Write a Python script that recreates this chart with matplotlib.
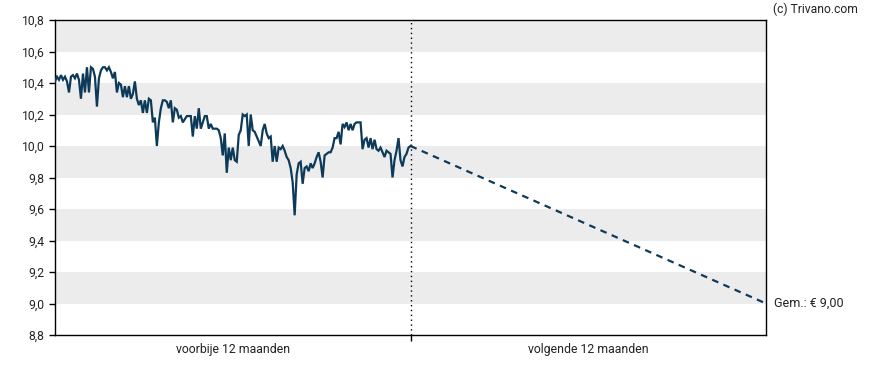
import numpy as np
import matplotlib
matplotlib.use("Agg")
import matplotlib.pyplot as plt

plt.rcParams['font.family'] = ['Roboto', 'DejaVu Sans']

# koersen afgelopen 12 maanden (gelijkmatig verdeeld)
koers = [
    10.41, 10.44, 10.42, 10.45, 10.42, 10.44, 10.41, 10.34, 10.44, 10.45,
    10.43, 10.46, 10.42, 10.30, 10.46, 10.34, 10.50, 10.34, 10.50, 10.49,
    10.44, 10.25, 10.43, 10.48, 10.50, 10.50, 10.48, 10.50, 10.47, 10.43,
    10.47, 10.34, 10.40, 10.39, 10.31, 10.38, 10.31, 10.38, 10.30, 10.33,
    10.41, 10.30, 10.26, 10.29, 10.21, 10.29, 10.21, 10.30, 10.29, 10.15,
    10.18, 10.00, 10.15, 10.24, 10.29, 10.29, 10.28, 10.24, 10.29, 10.15,
    10.24, 10.23, 10.18, 10.19, 10.15, 10.17, 10.19, 10.19, 10.19, 10.06,
    10.19, 10.11, 10.24, 10.11, 10.15, 10.19, 10.19, 10.11, 10.14, 10.11,
    10.11, 10.11, 10.10, 10.05, 9.94, 10.08, 9.83, 9.99, 9.91, 9.99,
    9.91, 9.90, 10.07, 10.10, 10.20, 10.19, 10.20, 10.00, 10.20, 10.10,
    10.09, 10.06, 10.03, 10.00, 10.10, 10.14, 10.08, 10.05, 10.06, 9.90,
    10.00, 9.90, 9.99, 9.98, 10.00, 9.97, 9.93, 9.91, 9.86, 9.77,
    9.56, 9.82, 9.89, 9.90, 9.76, 9.86, 9.87, 9.84, 9.89, 9.86,
    9.89, 9.93, 9.96, 9.90, 9.80, 9.94, 9.95, 9.96, 9.96, 9.99,
    10.05, 10.05, 10.09, 10.01, 10.14, 10.12, 10.15, 10.10, 10.14, 10.10,
    10.14, 10.15, 10.15, 10.15, 9.98, 10.04, 10.05, 9.99, 10.05, 9.98,
    10.04, 9.98, 9.97, 9.99, 9.96, 9.93, 9.97, 9.96, 9.95, 9.80,
    9.91, 9.97, 10.05, 9.91, 9.87, 9.93, 9.95, 9.99, 10.00,
]
# koersdoel: laatste koers -> gemiddelde verwachting
prognose = [10.00, 9.00]
periodes = ['voorbije 12 maanden', 'volgende 12 maanden']
yticks = [8.8, 9.0, 9.2, 9.4, 9.6, 9.8, 10.0, 10.2, 10.4, 10.6, 10.8]

kleur = '#0e3a5a'
tekst = '#222222'

fig = plt.figure(figsize=(8.88, 3.70), dpi=100)
ax = fig.add_axes([55/888, 35/370, 711/888, 315/370])

# grijze banden
for i in range(0, len(yticks) - 1, 2):
    ax.axhspan(yticks[-1 - i - 1], yticks[-1 - i], color='#ececec', lw=0, zorder=0)

x_hist = np.linspace(0, 1, len(koers))
ax.plot(x_hist, koers, color=kleur, lw=1.6, zorder=3, solid_joinstyle='miter')
ax.plot([1, 2], prognose, color=kleur, lw=1.6, ls=(0, (3, 2.5)), zorder=3)
ax.axvline(1, color='black', lw=1, ls=(0, (1, 2.5)), zorder=2)

ax.set_xlim(0, 2)
ax.set_ylim(8.8, 10.8)
ax.set_yticks(yticks)
ax.set_yticklabels([f'{v:.1f}'.replace('.', ',') for v in yticks], fontsize=8.7, color=tekst)
ax.set_xticks([1])
ax.set_xticklabels([''])
ax.set_xticks([0.5, 1.5], minor=True)
ax.set_xticklabels(periodes, minor=True, fontsize=8.8, color=tekst)
ax.tick_params(axis='x', which='minor', length=0, pad=6)
ax.tick_params(axis='both', which='major', length=4, width=1, direction='out')
for s in ax.spines.values():
    s.set_linewidth(1)

ax.text(1.011, 9.0, 'Gem.: € 9,00', transform=ax.get_yaxis_transform(),
        fontsize=9, color=tekst, va='center', ha='left')
fig.text(858/888, 1 - 9/370, '(c) Trivano.com', fontsize=8.7, color=tekst,
         ha='right', va='center')

fig.savefig('out.png', dpi=100)
